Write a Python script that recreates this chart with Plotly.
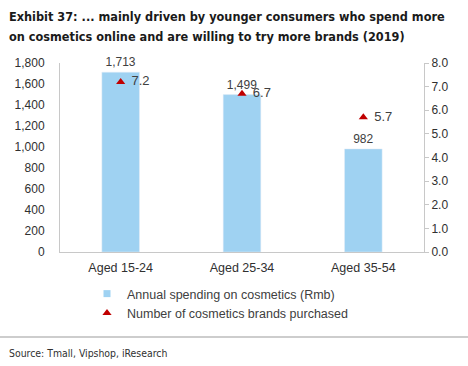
import plotly.graph_objects as go

categories = ["Aged 15-24", "Aged 25-34", "Aged 35-54"]
spending = [1713, 1499, 982]
brands = [7.2, 6.7, 5.7]
spend_name = "Annual spending on cosmetics (Rmb)"
brand_name = "Number of cosmetics brands purchased"
left_ticks = [0, 200, 400, 600, 800, 1000, 1200, 1400, 1600, 1800]
right_ticks = [0, 1, 2, 3, 4, 5, 6, 7, 8]
title_lines = ["Exhibit 37: ... mainly driven by younger consumers who spend more",
               "on cosmetics online and are willing to try more brands (2019)"]
source_text = "Source: Tmall, Vipshop, iResearch"

BAR = "#9fd2f2"
RED = "#c00000"
GREY_TXT = "#404040"
AXIS = "#c8c8c8"
NARROW = "DejaVu Sans Condensed, Liberation Sans Narrow, Liberation Sans, sans-serif"
SANS = "Liberation Sans, Arial, sans-serif"

L, R, T, B = 60, 44, 63, 114
PW, PH = 468 - L - R, 366 - T - B


def px(x):
    return (x - L) / PW


def py(y):
    return (366 - B - y) / PH


fig = go.Figure()
fig.add_trace(go.Bar(
    x=categories, y=spending, name=spend_name, marker_color=BAR, showlegend=False,
    width=0.31, texttemplate="%{y:,}", textposition="outside",
    textfont=dict(size=12, color=GREY_TXT, family=SANS), cliponaxis=False,
))
# legend entry for the bars (small square swatch, as in the reference)
fig.add_trace(go.Scatter(
    x=[None], y=[None], name=spend_name, mode="markers",
    marker=dict(symbol="square", size=7, color=BAR),
))
fig.add_trace(go.Scatter(
    x=categories, y=brands, name=brand_name, mode="markers", yaxis="y2",
    marker=dict(symbol="triangle-up", size=8, color=RED),
))
fig.add_trace(go.Scatter(
    x=categories, y=brands, mode="text", yaxis="y2", showlegend=False,
    text=["\u00a0\u00a0\u00a0" + f"{v:.1f}" for v in brands], textposition="middle right",
    textfont=dict(size=13, color=GREY_TXT, family=SANS), cliponaxis=False,
    hoverinfo="skip",
))

fig.update_layout(
    width=468, height=366,
    margin=dict(l=L, r=R, t=T, b=B, autoexpand=False),
    paper_bgcolor="white", plot_bgcolor="white",
    font=dict(family=SANS, color=GREY_TXT, size=12),
    showlegend=True,
    legend=dict(x=px(87), y=py(279), xanchor="left", yanchor="top",
                font=dict(size=12.5, color=GREY_TXT), itemwidth=30,
                tracegroupgap=0, bgcolor="rgba(0,0,0,0)"),
    xaxis=dict(showline=True, linecolor=AXIS, linewidth=1, ticks="outside",
               ticklen=4, tickcolor="rgba(0,0,0,0)",
               tickfont=dict(size=12.5, color="#303030")),
    yaxis=dict(range=[0, 1800], tickvals=left_ticks, tickformat=",",
               showgrid=False, zeroline=False, showline=True, linecolor=AXIS,
               ticks="outside", ticklen=12, tickcolor="rgba(0,0,0,0)",
               tickfont=dict(size=12, color="#303030")),
    yaxis2=dict(range=[0, 8], tickvals=right_ticks, tickformat=".1f",
                overlaying="y", side="right", showgrid=False, zeroline=False,
                showline=True, linecolor=AXIS, ticks="outside", ticklen=4,
                tickcolor=AXIS, tickfont=dict(size=12, color="#303030")),
    shapes=[dict(type="line", xref="paper", yref="paper",
                 x0=px(0), x1=px(468), y0=py(337), y1=py(337),
                 line=dict(color="#bdbdbd", width=1.5))],
    annotations=[
        dict(text=f"<b>{title_lines[0]}</b>", xref="paper", yref="paper",
             x=px(7), y=py(16), xanchor="left", yanchor="middle",
             showarrow=False, font=dict(family=NARROW, size=12.6, color="#1a1a1a")),
        dict(text=f"<b>{title_lines[1]}</b>", xref="paper", yref="paper",
             x=px(7), y=py(37), xanchor="left", yanchor="middle",
             showarrow=False, font=dict(family=NARROW, size=12.6, color="#1a1a1a")),
        dict(text=source_text, xref="paper", yref="paper",
             x=px(7), y=py(353), xanchor="left", yanchor="middle",
             showarrow=False, font=dict(family=NARROW, size=10.4, color="#303030")),
    ],
)

fig.write_html("out.html", config={"displayModeBar": False},
               post_script="document.body.style.margin='0';")
